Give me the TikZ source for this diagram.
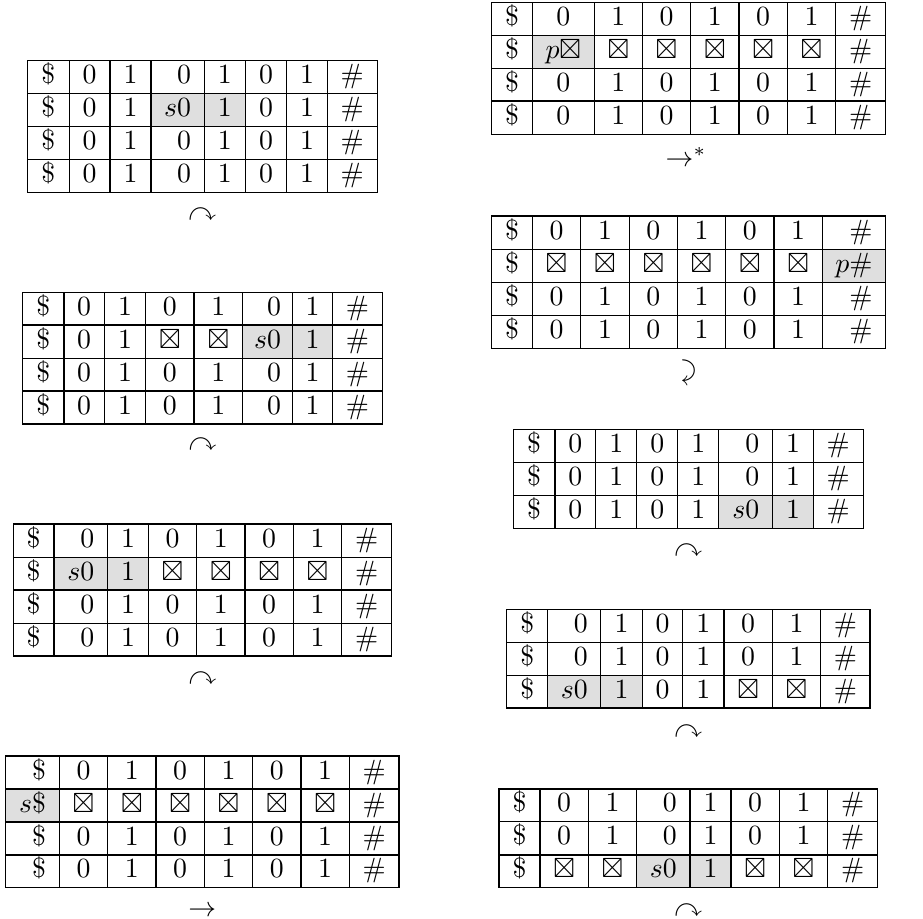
\documentclass[tikz,border=0pt]{standalone}
\usepackage{amssymb}
\usetikzlibrary{backgrounds}

\newcommand{\apag}{$\boxtimes$}
% uma linha da fita: #1 nome, #2 y topo, #3 y base, #4 celulas (colunas em \xs)
\newcommand{\linha}[4]{%
  \foreach \conteudo [count=\i] in {#4} {
    \pgfmathsetmacro\xa{\xs[\i-1]}
    \pgfmathsetmacro\xb{\xs[\i]}
    \pgfmathsetmacro\largura{(\xb-\xa)*0.36}
    \pgfmathsetmacro\altura{(#3-#2)*0.36}
    \node[celula, minimum width=\largura pt, minimum height=\altura pt]
      (#1-\i) at ({(\xa+\xb)/2},{(#2+#3)/2}) {\conteudo};
  }}

\begin{document}
\begin{tikzpicture}[
  x=0.36pt, y=-0.36pt,
  celula/.style={draw, line width=0.4pt, inner sep=0pt, outer sep=0pt,
                 text height=8pt, text depth=3.3pt},
  marcada/.style={fill=gray!25},
  passo/.style={inner sep=0pt}
]
  \useasboundingbox (0,0) rectangle (923,919);

  % Coluna da esquerda
  \def\xs{{27.3,69.3,110,151,204.3,245.3,286.7,327.3,377.3}}
  \linha{ea-1}{60.7}{93.3}{\$,0,1,\phantom{$s$}0,1,0,1,\#}
  \linha{ea-2}{93.3}{126.7}{\$,0,1,$s$0,1,0,1,\#}
  \linha{ea-3}{126.7}{159.3}{\$,0,1,\phantom{$s$}0,1,0,1,\#}
  \linha{ea-4}{159.3}{192.3}{\$,0,1,\phantom{$s$}0,1,0,1,\#}
  \node[passo] (pa) at (202.3,215) {$\curvearrowright$};

  \def\xs{{22.7,64,104.3,145.7,194,242.7,292.3,332.7,382.3}}
  \linha{eb-1}{292.3}{325}{\$,0,1,0,1,\phantom{$s$}0,1,\#}
  \linha{eb-2}{325}{358.3}{\$,0,1,\apag,\apag,$s$0,1,\#}
  \linha{eb-3}{358.3}{391}{\$,0,1,0,1,\phantom{$s$}0,1,\#}
  \linha{eb-4}{391}{424}{\$,0,1,0,1,\phantom{$s$}0,1,\#}
  \node[passo] (pb) at (202.5,445) {$\curvearrowright$};

  \def\xs{{13.3,54,107.7,148.3,196.7,245,293.3,341.7,391.7}}
  \linha{ec-1}{524}{557.3}{\$,\phantom{$s$}0,1,0,1,0,1,\#}
  \linha{ec-2}{557.3}{590}{\$,$s$0,1,\apag,\apag,\apag,\apag,\#}
  \linha{ec-3}{590}{623.3}{\$,\phantom{$s$}0,1,0,1,0,1,\#}
  \linha{ec-4}{623.3}{656}{\$,\phantom{$s$}0,1,0,1,0,1,\#}
  \node[passo] (pc) at (202.5,679) {$\curvearrowright$};

  \def\xs{{5.7,59.3,107.7,156,204.3,252.7,301,349.3,399}}
  \linha{ed-1}{756}{789}{\phantom{$s$}\$,0,1,0,1,0,1,\#}
  \linha{ed-2}{789}{822}{$s$\$,\apag,\apag,\apag,\apag,\apag,\apag,\#}
  \linha{ed-3}{822}{855}{\phantom{$s$}\$,0,1,0,1,0,1,\#}
  \linha{ed-4}{855}{887.7}{\phantom{$s$}\$,0,1,0,1,0,1,\#}
  \node[passo] (pd) at (202.3,911) {$\rightarrow$};

  % Coluna da direita
  \def\xs{{491.7,532.3,594.3,642.3,690.7,739,787.3,835.7,885.7}}
  \linha{da-1}{2.7}{35.7}{\$,0,1,0,1,0,1,\#}
  \linha{da-2}{35.7}{68.3}{\$,$p\boxtimes$,\apag,\apag,\apag,\apag,\apag,\#}
  \linha{da-3}{68.3}{101}{\$,0,1,0,1,0,1,\#}
  \linha{da-4}{101}{134.7}{\$,0,1,0,1,0,1,\#}
  \node[passo] (qa) at (686,157) {$\rightarrow^*$};

  \def\xs{{491.7,532.3,580.7,629.3,677.3,725.7,774,822.3,885.7}}
  \linha{db-1}{216}{249.3}{\$,0,1,0,1,0,1,\phantom{$p$}\#}
  \linha{db-2}{249.3}{282.3}{\$,\apag,\apag,\apag,\apag,\apag,\apag,$p$\#}
  \linha{db-3}{282.3}{315.7}{\$,0,1,0,1,0,1,\phantom{$p$}\#}
  \linha{db-4}{315.7}{348.3}{\$,0,1,0,1,0,1,\phantom{$p$}\#}
  \node[passo] (qb) at (688.7,372.5) {\rotatebox{-90}{$\curvearrowright$}};

  \def\xs{{513.3,555,595.7,636.7,677.7,718.7,772.7,813.3,863.3}}
  \linha{dc-1}{429.3}{462.7}{\$,0,1,0,1,\phantom{$s$}0,1,\#}
  \linha{dc-2}{462.7}{495.7}{\$,0,1,0,1,\phantom{$s$}0,1,\#}
  \linha{dc-3}{495.7}{528.7}{\$,0,1,0,1,$s$0,1,\#}
  \node[passo] (qc) at (688.3,551) {$\curvearrowright$};

  \def\xs{{506.7,547.7,600.7,642.3,682.7,724,772.3,820.7,870}}
  \linha{dd-1}{609.3}{642.3}{\$,\phantom{$s$}0,1,0,1,0,1,\#}
  \linha{dd-2}{642.3}{675.3}{\$,\phantom{$s$}0,1,0,1,0,1,\#}
  \linha{dd-3}{675.3}{708}{\$,$s$0,1,0,1,\apag,\apag,\#}
  \node[passo] (qd) at (688.3,731.5) {$\curvearrowright$};

  \def\xs{{499,540,588.3,636.7,690,731,779.3,827.7,877.7}}
  \linha{de-1}{789}{821.7}{\$,0,1,\phantom{$s$}0,1,0,1,\#}
  \linha{de-2}{821.7}{855}{\$,0,1,\phantom{$s$}0,1,0,1,\#}
  \linha{de-3}{855}{887.7}{\$,\apag,\apag,$s$0,1,\apag,\apag,\#}
  \node[passo] (qe) at (688.3,911) {$\curvearrowright$};

  % celulas da cabeca
  \begin{scope}[on background layer]
    \foreach \cel in {ea-2-4,ea-2-5,eb-2-6,eb-2-7,ec-2-2,ec-2-3,ed-2-1,
                      da-2-2,db-2-8,dc-3-6,dc-3-7,dd-3-2,dd-3-3,de-3-4,de-3-5}
      \fill[marcada] (\cel.south west) rectangle (\cel.north east);
  \end{scope}
\end{tikzpicture}
\end{document}
